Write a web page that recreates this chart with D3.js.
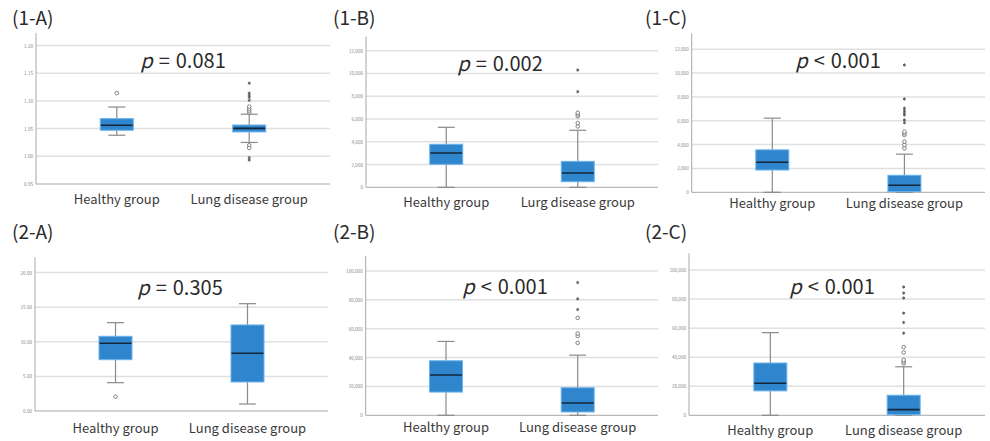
<!DOCTYPE html>
<html><head><meta charset="utf-8">
<script src="https://cdn.jsdelivr.net/npm/d3@7"></script>
<style>body{margin:0;background:#fff}</style>
</head><body>
<svg id="c" width="990" height="441"></svg>
<script>
// ---------- DATA ----------
const panelTitles = ["(1-A)", "(1-B)", "(1-C)", "(2-A)", "(2-B)", "(2-C)"];
const pSymbols = ["=", "=", "<", "=", "<", "<"];
const pValues = ["0.081", "0.002", "0.001", "0.305", "0.001", "0.001"];
const groups = ["Healthy group", "Lung disease group"];
const groups1B = ["Healthy group", "Lurg disease group"];

// box stats: [lower whisker, Q1, median, Q3, upper whisker]
const healthy1A = [1.038, 1.047, 1.056, 1.068, 1.089];
const lung1A = [1.025, 1.044, 1.0505, 1.0565, 1.076];
const healthy1B = [0, 2020, 3010, 3780, 5270];
const lung1B = [0, 490, 1260, 2280, 5010];
const healthy1C = [0, 1870, 2520, 3560, 6220];
const lung1C = [0, 50, 590, 1430, 3200];
const healthy2A = [4.09, 7.41, 9.78, 10.79, 12.76];
const lung2A = [1.01, 4.19, 8.34, 12.43, 15.5];
const healthy2B = [0, 16100, 27900, 37800, 51200];
const lung2B = [0, 2300, 8500, 19100, 41700];
const healthy2C = [0, 16800, 22100, 36000, 56900];
const lung2C = [0, 400, 3900, 13800, 33400];

// outliers (circles) and extremes (asterisks)
const healthyOut1A = [1.114];
const lungOut1A = [1.079, 1.0825, 1.086, 1.0897, 1.0199, 1.015];
const lungExt1A = [1.132, 1.114, 1.110, 1.1065, 1.101, 0.9976, 0.9933];
const lungOut1B = [5350, 5650, 6250, 6400, 6550];
const lungExt1B = [8400, 10300];
const lungOut1C = [3690, 3970, 4250, 4810, 4950, 5090];
const lungExt1C = [5840, 6070, 6490, 6680, 6860, 7050, 7830, 10680];
const healthyOut2A = [2.07];
const lungOut2B = [50200, 54900, 56700, 67500];
const lungExt2B = [73300, 80700, 92000];
const lungOut2C = [35700, 36900, 38100, 43200, 46900];
const lungExt2C = [56500, 63900, 70300, 80700, 84100, 88300];

// tick values
const ticks1A = [0.95, 1.00, 1.05, 1.10, 1.15, 1.20];
const ticks1BC = [0, 2000, 4000, 6000, 8000, 10000, 12000];
const ticks2A = [0, 5, 10, 15, 20];
const ticks2BC = [0, 20000, 40000, 60000, 80000, 100000];
const yDomains = [[0.95, 1.2226], [0, 13230], [0, 13340], [0, 22.2], [0, 110400], [0, 111500]];

// ---------- LAYOUT ----------
const layout = [
  {left: 36,    right: 330, top: 33,    bottom: 184,   tx: 12,  ty: 25,  px: 183, py: 67.5, ly: 204,   fmt: ".2f"},
  {left: 366,   right: 658, top: 36.7,  bottom: 187.3, tx: 333, ty: 25,  px: 500, py: 71,   ly: 206.7, fmt: ","},
  {left: 691.7, right: 985, top: 33.3,  bottom: 192.3, tx: 645, ty: 25,  px: 838, py: 68,   ly: 208.3, fmt: ","},
  {left: 35,    right: 328, top: 257.3, bottom: 411,   tx: 12,  ty: 239, px: 180, py: 295,  ly: 433.3, fmt: ".2f"},
  {left: 365.7, right: 658, top: 256,   bottom: 415.3, tx: 333, ty: 239, px: 505, py: 293.5,ly: 431.7, fmt: ","},
  {left: 689,   right: 985, top: 253.3, bottom: 415.3, tx: 645, ty: 239, px: 832, py: 294,  ly: 435,   fmt: ","}
];

const panels = [
  {ticks: ticks1A, cats: groups, boxes: [healthy1A, lung1A], outs: [healthyOut1A, lungOut1A], exts: [[], lungExt1A]},
  {ticks: ticks1BC, cats: groups1B, boxes: [healthy1B, lung1B], outs: [[], lungOut1B], exts: [[], lungExt1B]},
  {ticks: ticks1BC, cats: groups, boxes: [healthy1C, lung1C], outs: [[], lungOut1C], exts: [[], lungExt1C]},
  {ticks: ticks2A, cats: groups, boxes: [healthy2A, lung2A], outs: [healthyOut2A, []], exts: [[], []]},
  {ticks: ticks2BC, cats: groups, boxes: [healthy2B, lung2B], outs: [[], lungOut2B], exts: [[], lungExt2B]},
  {ticks: ticks2BC, cats: groups, boxes: [healthy2C, lung2C], outs: [[], lungOut2C], exts: [[], lungExt2C]}
];

const FONT = "'Noto Sans CJK JP', 'Noto Sans', sans-serif";
const svg = d3.select("#c");
const boxW = 33;

panels.forEach((p, i) => {
  const L = layout[i];
  const g = svg.append("g");
  const y = d3.scaleLinear().domain(yDomains[i]).range([L.bottom, L.top]);
  const x = d3.scalePoint().domain(p.cats).range([L.left, L.right]).padding(0.61);

  g.selectAll("line.grid").data(p.ticks.slice(1)).join("line")
    .attr("x1", L.left).attr("x2", L.right)
    .attr("y1", d => y(d)).attr("y2", d => y(d))
    .attr("stroke", "#e0e0e0").attr("stroke-width", 1.5);

  const ax = g.append("g").attr("transform", `translate(${L.left},0)`)
    .call(d3.axisLeft(y).tickValues(p.ticks).tickFormat(d3.format(L.fmt)).tickSize(0).tickPadding(3));
  ax.select(".domain").remove();
  ax.selectAll("text").attr("font-size", 4.6).attr("fill", "#888").attr("font-family", FONT);
  g.append("line").attr("x1", L.left).attr("x2", L.left).attr("y1", L.top).attr("y2", L.bottom)
    .attr("stroke", "#a8a8a8").attr("stroke-width", 1);
  g.append("line").attr("x1", L.left).attr("x2", L.right).attr("y1", L.bottom).attr("y2", L.bottom)
    .attr("stroke", "#a8a8a8").attr("stroke-width", 1);

  p.cats.forEach((c, k) => {
    const s = p.boxes[k];
    const cx = x(c);
    const wg = g.append("g");
    wg.append("line").attr("x1", cx).attr("x2", cx).attr("y1", y(s[3])).attr("y2", y(s[4]))
      .attr("stroke", "#8a8a8a").attr("stroke-width", 1.2);
    wg.append("line").attr("x1", cx).attr("x2", cx).attr("y1", y(s[1])).attr("y2", y(s[0]))
      .attr("stroke", "#8a8a8a").attr("stroke-width", 1.2);
    [s[0], s[4]].forEach(v => {
      wg.append("line").attr("x1", cx - 8.5).attr("x2", cx + 8.5).attr("y1", y(v)).attr("y2", y(v))
        .attr("stroke", "#8a8a8a").attr("stroke-width", 1.2);
    });
    wg.append("rect").attr("x", cx - boxW / 2).attr("width", boxW)
      .attr("y", y(s[3])).attr("height", y(s[1]) - y(s[3]))
      .attr("fill", "#2f86cc").attr("stroke", "#6db3ec").attr("stroke-width", 1);
    wg.append("line").attr("x1", cx - boxW / 2 + 0.5).attr("x2", cx + boxW / 2 - 0.5)
      .attr("y1", y(s[2])).attr("y2", y(s[2]))
      .attr("stroke", "#142638").attr("stroke-width", 1.6);
    wg.selectAll("circle.o").data(p.outs[k]).join("circle")
      .attr("cx", cx).attr("cy", d => y(d)).attr("r", 1.8)
      .attr("fill", "#fff").attr("stroke", "#666").attr("stroke-width", 0.8);
    wg.selectAll("path.e").data(p.exts[k]).join("path")
      .attr("transform", d => `translate(${cx},${y(d)})`)
      .attr("d", d3.symbol(d3.symbolAsterisk, 7))
      .attr("fill", "none").attr("stroke", "#555").attr("stroke-width", 0.9);
    g.append("text").attr("x", cx).attr("y", L.ly).attr("text-anchor", "middle")
      .attr("font-family", FONT).attr("font-size", 13)
      .attr("fill", "#3a3a3a").text(c);
  });

  svg.append("text").attr("x", L.tx).attr("y", L.ty).attr("font-family", FONT)
    .attr("font-size", 19).attr("fill", "#2a2a2a").text(panelTitles[i]);

  const pt = svg.append("text").attr("x", L.px).attr("y", L.py).attr("text-anchor", "middle")
    .attr("font-family", FONT).attr("font-size", 20).attr("fill", "#2a2a2a");
  pt.append("tspan").attr("font-style", "italic").text("p");
  pt.append("tspan").attr("dx", 6).text(pSymbols[i]);
  pt.append("tspan").attr("dx", 6).text(pValues[i]);
});
</script></body></html>
